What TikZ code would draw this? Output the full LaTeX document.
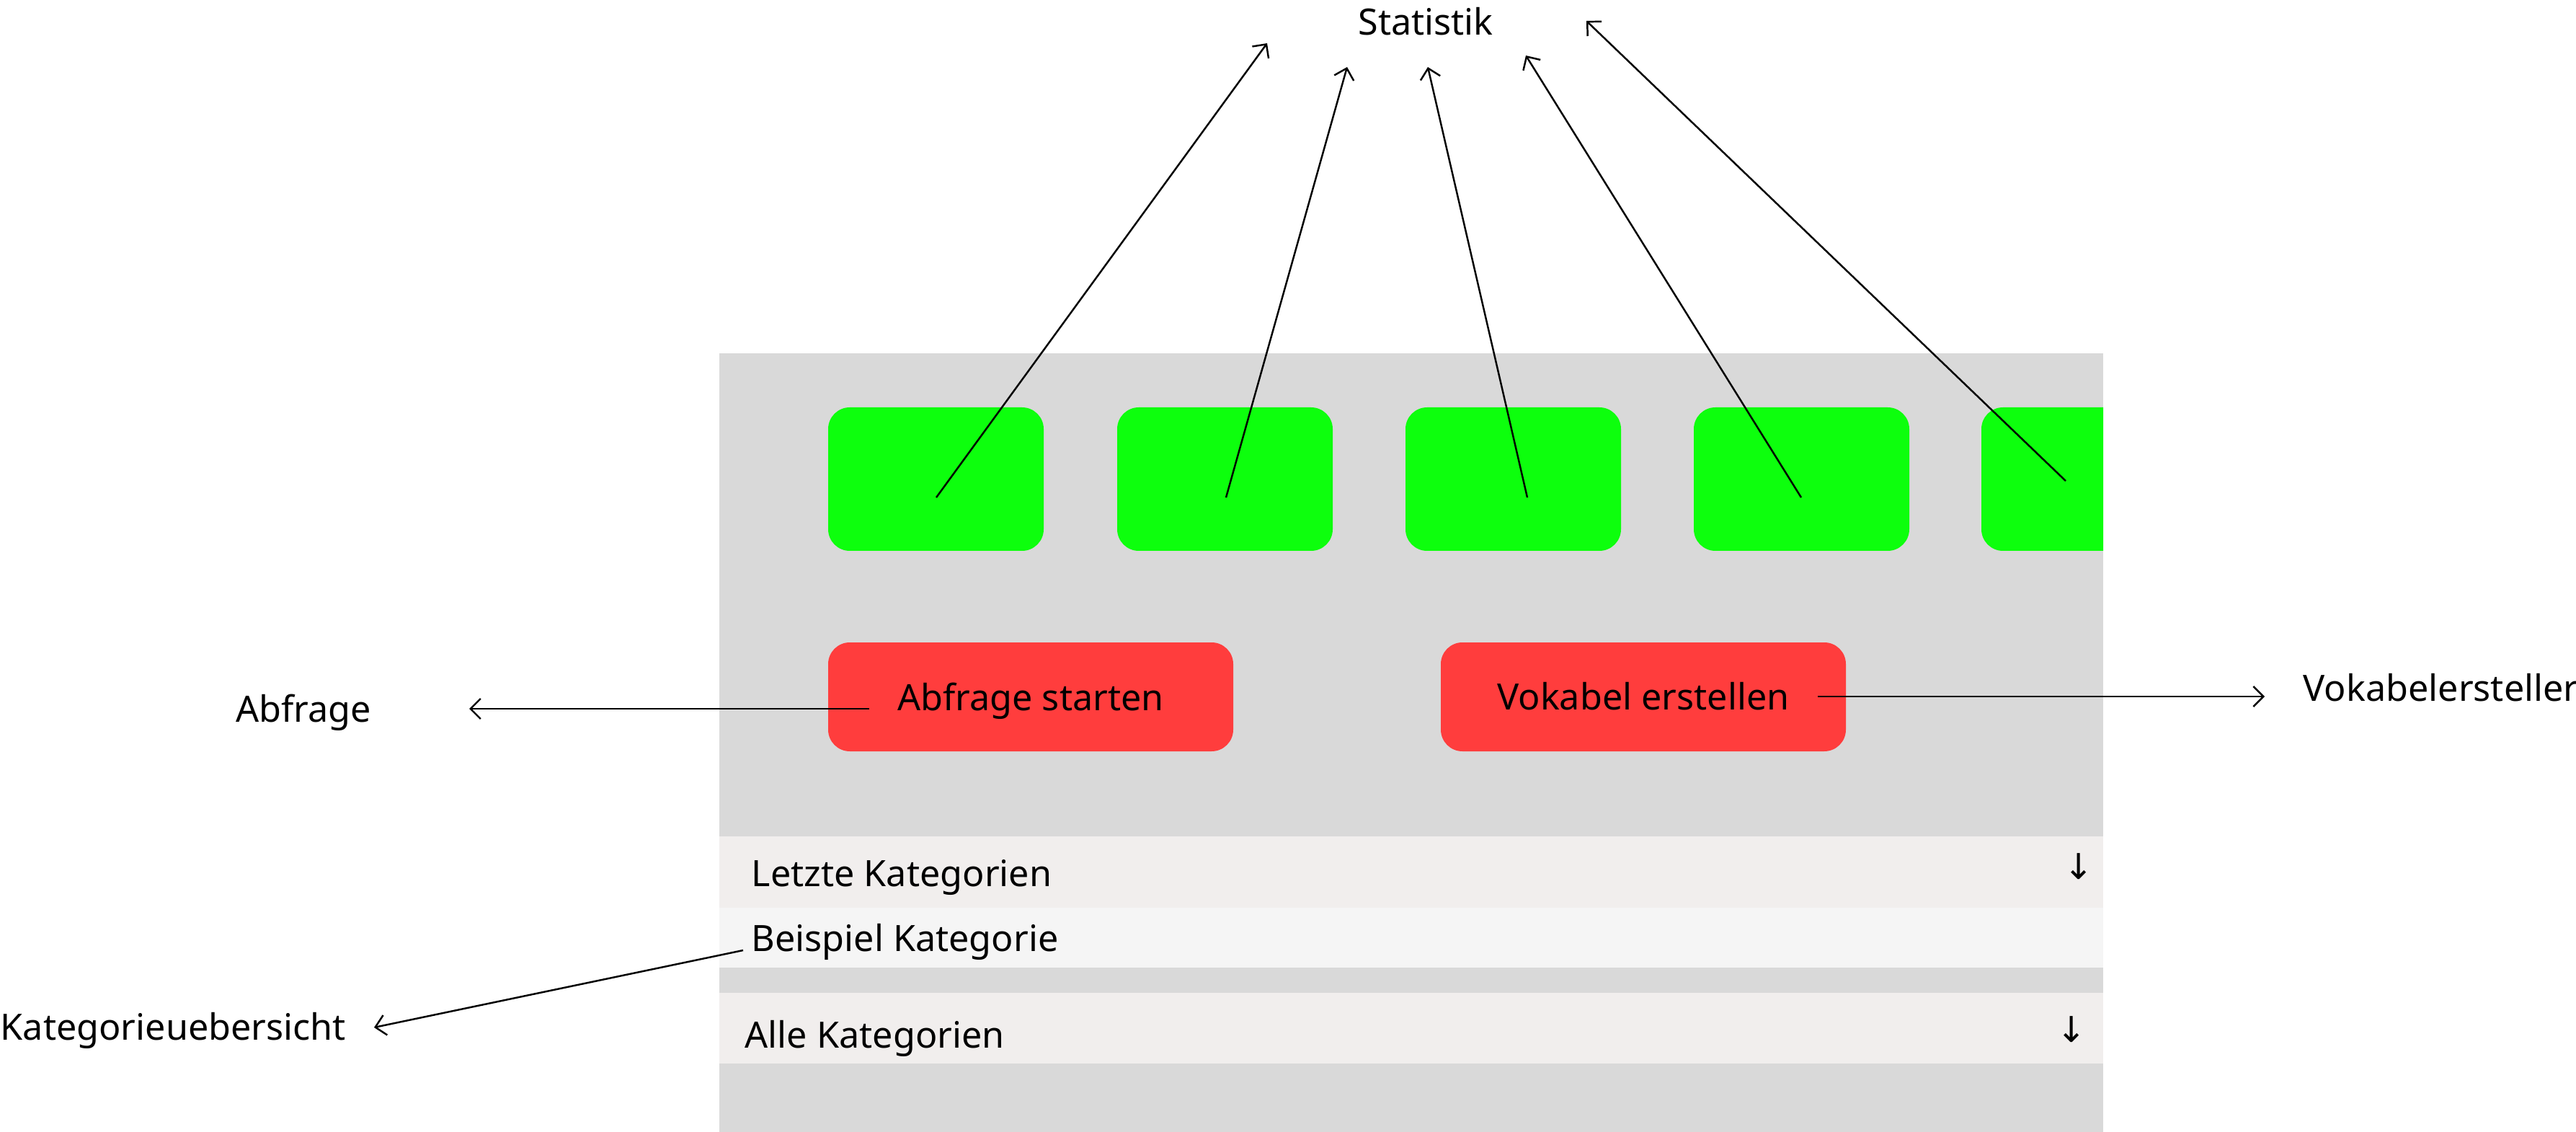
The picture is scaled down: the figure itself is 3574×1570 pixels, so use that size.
\documentclass[tikz,border=0pt]{standalone}
\usepackage{fontspec}
\setmainfont{Noto Sans}
\newfontfamily\arrowfont{DejaVu Sans}
\usetikzlibrary{arrows.meta}
\definecolor{panelgray}{HTML}{D9D9D9}
\definecolor{rowgray}{HTML}{F1EEED}
\definecolor{rowlight}{HTML}{F5F5F5}
\definecolor{tilegreen}{HTML}{0DFF0D}
\definecolor{btnred}{HTML}{FF3D3D}
\tikzset{
  lbl/.style={inner sep=0pt, font=\fontsize{14.3pt}{17pt}\selectfont},
  downlbl/.style={inner sep=0pt, anchor=base, font=\arrowfont\fontsize{14pt}{16pt}\selectfont},
  tile/.style={fill=tilegreen, rounded corners=3mm},
  btn/.style={fill=btnred, rounded corners=3mm},
  conn/.style={line width=0.7pt, -{Straight Barb[length=1.4mm,width=2.8mm]}},
}
\begin{document}
\begin{tikzpicture}[x=0.01cm,y=-0.01cm]
\useasboundingbox (0,0) rectangle (3574,1570);
% panel
\fill[panelgray] (998,490) rectangle (2918,1570);
\fill[rowgray] (998,1160) rectangle (2918,1259);
\fill[rowlight] (998,1259) rectangle (2918,1342);
\fill[rowgray] (998,1377) rectangle (2918,1475);
% green tiles
\begin{scope}
\clip (998,490) rectangle (2918,1570);
\fill[tile] (1149,565) rectangle (1448,764);
\fill[tile] (1550,565) rectangle (1849,764);
\fill[tile] (1950,565) rectangle (2249,764);
\fill[tile] (2350,565) rectangle (2649,764);
\fill[tile] (2749,565) rectangle (3048,764);
\end{scope}
% red buttons
\fill[btn] (1149,891) rectangle (1711,1042);
\fill[btn] (1999,891) rectangle (2561,1042);
% labels
\node[lbl, anchor=base] (stat) at (1978,49) {Statistik};
\node[lbl, anchor=base] (abf) at (421,1001) {Abfrage};
\node[lbl, anchor=base] (abfs) at (1430,985) {Abfrage starten};
\node[lbl, anchor=base] (vokc) at (2280,984) {Vokabel erstellen};
\node[lbl, anchor=base west] (voke) at (3195,972) {Vokabelersteller};
\node[lbl, anchor=base west] (letzte) at (1042,1229) {Letzte Kategorien};
\node[lbl, anchor=base west] (beisp) at (1042,1319) {Beispiel Kategorie};
\node[lbl, anchor=base west] (alle) at (1033,1453) {Alle Kategorien};
\node[lbl, anchor=base west] (katu) at (0,1442) {Kategorieuebersicht};
\node[downlbl] (down1) at (2884,1219) {↓};
\node[downlbl] (down2) at (2874,1445) {↓};
% connector end points
\coordinate (s1a) at (1299,690); \coordinate (s1b) at (1758,60);
\coordinate (s2a) at (1701,690); \coordinate (s2b) at (1869,93);
\coordinate (s3a) at (2119,690); \coordinate (s3b) at (1981,93);
\coordinate (s4a) at (2499,690); \coordinate (s4b) at (2117,77);
\coordinate (s5a) at (2866,667); \coordinate (s5b) at (2201,29);
\coordinate (aa) at (1206,983); \coordinate (ab) at (651,983);
\coordinate (va) at (2522,966); \coordinate (vb) at (3142,966);
\coordinate (ka) at (1031,1318); \coordinate (kb) at (519,1425);
\draw[conn] (s1a) -- (s1b);
\draw[conn] (s2a) -- (s2b);
\draw[conn] (s3a) -- (s3b);
\draw[conn] (s4a) -- (s4b);
\draw[conn] (s5a) -- (s5b);
\draw[conn] (aa) -- (ab);
\draw[conn] (va) -- (vb);
\draw[conn] (ka) -- (kb);
\end{tikzpicture}
\end{document}
